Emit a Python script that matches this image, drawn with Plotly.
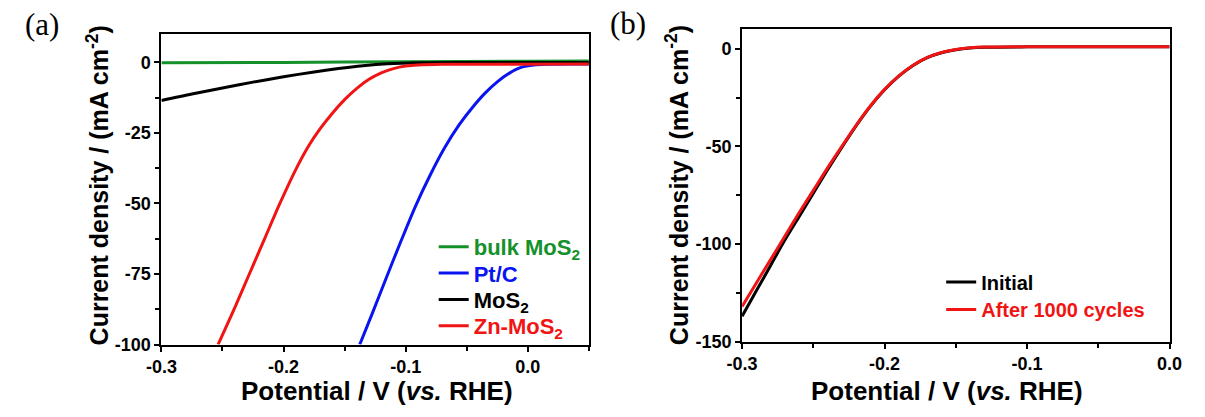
import plotly.graph_objects as go

# ---------------- Panel (a) data ----------------
bulk_x = [-0.30, -0.20, -0.10, 0.00, 0.05]
bulk_y = [-0.1, 0.0, 0.2, 0.4, 0.5]

ptc_x = [-0.1376, -0.127, -0.116, -0.104, -0.092, -0.080, -0.068, -0.056, -0.045,
         -0.035, -0.025, -0.015, -0.005, 0.005, 0.015, 0.05]
ptc_y = [-100, -88.6, -76.5, -63.5, -51, -40, -30.2, -22, -15.8, -10.9, -6.9, -3.8,
         -1.7, -0.9, -0.65, -0.6]

mos2_x = [-0.30, -0.275, -0.25, -0.225, -0.20, -0.175, -0.155, -0.135, -0.115, -0.09, -0.05, 0.05]
mos2_y = [-13.5, -11.2, -9.1, -7.0, -5.1, -3.4, -2.2, -1.2, -0.5, -0.1, 0.0, 0.0]

zn_x = [-0.2536, -0.240, -0.228, -0.215, -0.203, -0.190, -0.180, -0.170, -0.160, -0.150,
        -0.140, -0.130, -0.120, -0.110, -0.100, -0.090, -0.070, 0.05]
zn_y = [-100, -87, -75, -62, -50, -38, -30, -23.5, -18, -13.2, -9.2, -6.0, -3.7, -2.2,
        -1.3, -0.9, -0.65, -0.6]

# ---------------- Panel (b) data ----------------
b_x = [-0.30, -0.29, -0.28, -0.27, -0.26, -0.25, -0.24, -0.23, -0.22, -0.21, -0.20,
       -0.19, -0.18, -0.17, -0.16, -0.15, -0.14, -0.13, -0.10, 0.00]
initial_y = [-137, -124, -111, -98, -86, -74, -62, -50.5, -39.5, -29.5, -21,
             -14, -8.5, -4.5, -2, -0.5, 0.4, 0.8, 1.0, 1.0]
after_y = [-132, -120, -108, -96, -84, -72.5, -61, -50, -39.2, -29.3, -20.8,
           -13.9, -8.4, -4.4, -1.9, -0.4, 0.5, 0.9, 1.1, 1.1]

# ---------------- tick labels ----------------
a_xtickvals = [-0.3, -0.2, -0.1, 0.0]
a_xticktext = ["-0.3", "-0.2", "-0.1", "0.0"]
a_ytickvals = [0, -25, -50, -75, -100]
a_yticktext = ["0", "-25", "-50", "-75", "-100"]
b_xtickvals = [-0.3, -0.2, -0.1, 0.0]
b_xticktext = ["-0.3", "-0.2", "-0.1", "0.0"]
b_ytickvals = [0, -50, -100, -150]
b_yticktext = ["0", "-50", "-100", "-150"]

GREEN = "#14912a"
BLUE = "#0a14f0"
BLACK = "#000000"
RED = "#f01414"
FONT = "Liberation Sans"

fig = go.Figure()

def add(x, y, name, color, xa, ya, legend):
    fig.add_trace(go.Scatter(
        x=x, y=y, mode="lines", name=name,
        line=dict(color=color, width=3, shape="spline", smoothing=0.8),
        xaxis=xa, yaxis=ya, legend=legend, showlegend=True))

add(bulk_x, bulk_y, "bulk MoS<sub>2</sub>", GREEN, "x", "y", "legend")
add(ptc_x, ptc_y, "Pt/C", BLUE, "x", "y", "legend2")
add(mos2_x, mos2_y, "MoS<sub>2</sub>", BLACK, "x", "y", "legend3")
add(zn_x, zn_y, "Zn-MoS<sub>2</sub>", RED, "x", "y", "legend4")

add(b_x, initial_y, "Initial", BLACK, "x2", "y2", "legend5")
add(b_x, after_y, "After 1000 cycles", RED, "x2", "y2", "legend6")

W, H = 1205, 417

def px_x(p):
    return p / W

def px_y(p):
    return (H - p) / H

axis_common = dict(
    showline=True, linecolor="black", linewidth=2, mirror=True,
    ticks="outside", ticklen=5, tickwidth=2, tickcolor="black",
    showgrid=False, zeroline=False,
    tickfont=dict(family=FONT, size=18, color="black", weight="bold"),
)

def leg(xp, yp, size, color):
    return dict(x=px_x(xp), y=px_y(yp), xanchor="left", yanchor="middle",
                bgcolor="rgba(0,0,0,0)", borderwidth=0, tracegroupgap=0,
                font=dict(family=FONT, size=size, color=color, weight="bold"))

fig.update_layout(
    width=W, height=H,
    margin=dict(l=0, r=0, t=0, b=0),
    paper_bgcolor="white", plot_bgcolor="white",
    xaxis=dict(domain=[px_x(149), px_x(587)], range=[-0.3, 0.05], anchor="y",
               tickvals=a_xtickvals, ticktext=a_xticktext,
               minor=dict(dtick=0.05, tick0=0, ticks="outside", ticklen=4, tickwidth=2, tickcolor="black"),
               **axis_common),
    yaxis=dict(domain=[px_y(353), px_y(35)], range=[-100, 10], anchor="x",
               tickvals=a_ytickvals, ticktext=a_yticktext,
               minor=dict(dtick=12.5, tick0=0, ticks="outside", ticklen=4, tickwidth=2, tickcolor="black"),
               **axis_common),
    xaxis2=dict(domain=[px_x(744), px_x(1182)], range=[-0.3, 0.0], anchor="y2",
                tickvals=b_xtickvals, ticktext=b_xticktext,
                minor=dict(dtick=0.05, tick0=0, ticks="outside", ticklen=4, tickwidth=2, tickcolor="black"),
                **axis_common),
    yaxis2=dict(domain=[px_y(350), px_y(30)], range=[-150, 10], anchor="x2",
                tickvals=b_ytickvals, ticktext=b_yticktext,
                minor=dict(dtick=25, tick0=0, ticks="outside", ticklen=4, tickwidth=2, tickcolor="black"),
                **axis_common),
    legend=leg(428, 253, 22, GREEN),
    legend2=leg(428, 280, 22, BLUE),
    legend3=leg(428, 307, 22, BLACK),
    legend4=leg(428, 334, 22, RED),
    legend5=leg(948, 289, 20, BLACK),
    legend6=leg(948, 317, 20, RED),
    showlegend=True,
)

title_font_y = dict(family=FONT, size=25, color="black", weight="bold")
title_font_x = dict(family=FONT, size=26, color="black", weight="bold")
fig.add_annotation(text="Current density / (mA cm<sup>-2</sup>)", x=px_x(84), y=px_y(190),
                   textangle=-90, font=title_font_y, xanchor="center", yanchor="middle")
fig.add_annotation(text="Current density / (mA cm<sup>-2</sup>)", x=px_x(678), y=px_y(190),
                   textangle=-90, font=title_font_y, xanchor="center", yanchor="middle")
fig.add_annotation(text="Potential / V (<i>vs.</i> RHE)", x=px_x(370), y=0,
                   font=title_font_x, xanchor="center", yanchor="bottom", borderpad=0)
fig.add_annotation(text="Potential / V (<i>vs.</i> RHE)", x=px_x(954), y=0,
                   font=title_font_x, xanchor="center", yanchor="bottom", borderpad=0)
fig.update_annotations(xref="paper", yref="paper", showarrow=False)

panel_font = dict(family="Liberation Serif", size=31, color="black")
fig.add_annotation(text="(a)", x=px_x(7), y=px_y(25), xref="paper", yref="paper",
                   showarrow=False, xanchor="left", yanchor="middle", font=panel_font)
fig.add_annotation(text="(b)", x=px_x(607), y=px_y(24), xref="paper", yref="paper",
                   showarrow=False, xanchor="left", yanchor="middle", font=panel_font)

fig.write_html("out.html")
